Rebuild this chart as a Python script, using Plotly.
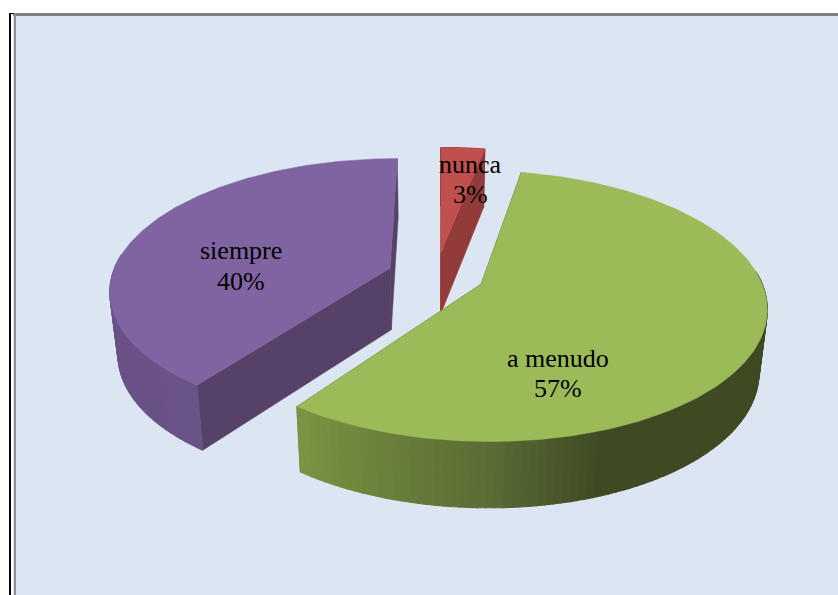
import numpy as np
import plotly.graph_objects as go

# ----- Data ----- #

labels = ['a menudo', 'siempre', 'nunca']
values = [57, 40, 3]

# ----- Style ----- #

top_colors = ['#9bbb59', '#8064a2', '#c0504d']
cut_colors = ['#3f4a23', '#564268', '#933b39']
side_stops = [
    [(90, '#3f4a23'), (160, '#3f4a23'), (181, '#5c6e36'), (216, '#7b9543')],
    [(216, '#6b5488'), (250, '#6a5186'), (290, '#6c5389'), (360, '#6c5389')],
    [(0, '#933b39'), (380, '#933b39')],
]
label_pos = [(558, 358, 388), (241, 250, 281), (470, 164, 194)]

start_angle = 11        # clockwise from the back of the pie
explode = 0.175
cx, cy = 436, 275       # pixels
rx, ry = 278, 129
persp = 0.16
depth = 62
shrink = 0.025          # the underside is a little further from the camera


def project(u, v, z=0):
    w = 1 / (1 - persp * v)
    return cx + rx * u * w * (1 - shrink * z), cy + ry * v * w + depth * z * w ** 0.35


def hex_rgb(c):
    return np.array([int(c[i:i + 2], 16) for i in (1, 3, 5)])


def shade(stops, a):
    angles = [s[0] for s in stops]
    cols = np.array([hex_rgb(s[1]) for s in stops])
    rgb = [np.interp(a, angles, cols[:, i]) for i in range(3)]
    return 'rgb(%d,%d,%d)' % tuple(rgb)


def poly(fig, pts, color, width=0.5):
    xs = [p[0] for p in pts] + [pts[0][0]]
    ys = [p[1] for p in pts] + [pts[0][1]]
    fig.add_trace(go.Scatter(x=xs, y=ys, mode='lines', fill='toself', fillcolor=color,
                             line=dict(color=color, width=width), hoverinfo='skip', showlegend=False))


fig = go.Figure()

# slice angles from the values
spans = [v / sum(values) * 360 for v in values]
starts = [start_angle + sum(spans[:i]) for i in range(len(values))]

# back to front so the nearer slices paint over
for i in [2, 1, 0]:
    a0, a1 = starts[i], starts[i] + spans[i]
    mid = np.radians((a0 + a1) / 2)
    ou, ov = explode * np.sin(mid), -explode * np.cos(mid)

    def rim(a, z=0):
        r = np.radians(a)
        return project(ou + np.sin(r), ov - np.cos(r), z)

    # cut faces
    for a in (a0, a1):
        poly(fig, [project(ou, ov), rim(a), rim(a, 1), project(ou, ov, 1)], cut_colors[i])

    # outer wall, in thin strips for the gradient
    steps = np.arange(a0, a1, 1.5).tolist() + [a1]
    for s0, s1 in zip(steps[:-1], steps[1:]):
        a_mod = (s0 + s1) / 2 % 360
        if np.cos(np.radians(a_mod)) > 0.1 and i != 2:
            continue
        poly(fig, [rim(s0), rim(s1), rim(s1, 1), rim(s0, 1)], shade(side_stops[i], a_mod), width=1.2)

    # top face
    arc = np.linspace(a0, a1, 160)
    poly(fig, [project(ou, ov)] + [rim(a) for a in arc], top_colors[i])

for lab, val, pos in zip(labels, values, label_pos):
    for text, y in ((lab, pos[1]), (f'{val}%', pos[2])):
        fig.add_annotation(x=pos[0], y=y, text=text, showarrow=False,
                           font=dict(family='Liberation Serif', size=26, color='black'),
                           xanchor='center', yanchor='middle')

# chart area and the frame round it
fig.add_shape(type='rect', x0=13, y0=13, x1=838, y1=595, layer='below',
              fillcolor='#dce6f2', line_width=0)
fig.add_shape(type='rect', x0=13, y0=13, x1=838, y1=16, layer='below',
              fillcolor='#7f7f7f', line_width=0)
fig.add_shape(type='rect', x0=14, y0=13, x1=16, y1=595, layer='below',
              fillcolor='#8f8f8f', line_width=0)
fig.add_shape(type='rect', x0=9, y0=13, x1=11, y1=595, layer='below',
              fillcolor='black', line_width=0)
fig.add_shape(type='rect', x0=9, y0=13, x1=14, y1=14, layer='below',
              fillcolor='black', line_width=0)

fig.update_layout(
    width=838, height=595,
    autosize=False,
    margin=dict(l=0, r=0, t=0, b=0),
    paper_bgcolor='white',
    plot_bgcolor='white',
    xaxis=dict(range=[0, 838], visible=False, fixedrange=True),
    yaxis=dict(range=[595, 0], visible=False, fixedrange=True),
)

# the browser's default body margin would push the picture 8px in
fig.write_html("out.html", config={'displayModeBar': False},
               post_script="document.body.style.margin='0';document.body.style.overflow='hidden';")
